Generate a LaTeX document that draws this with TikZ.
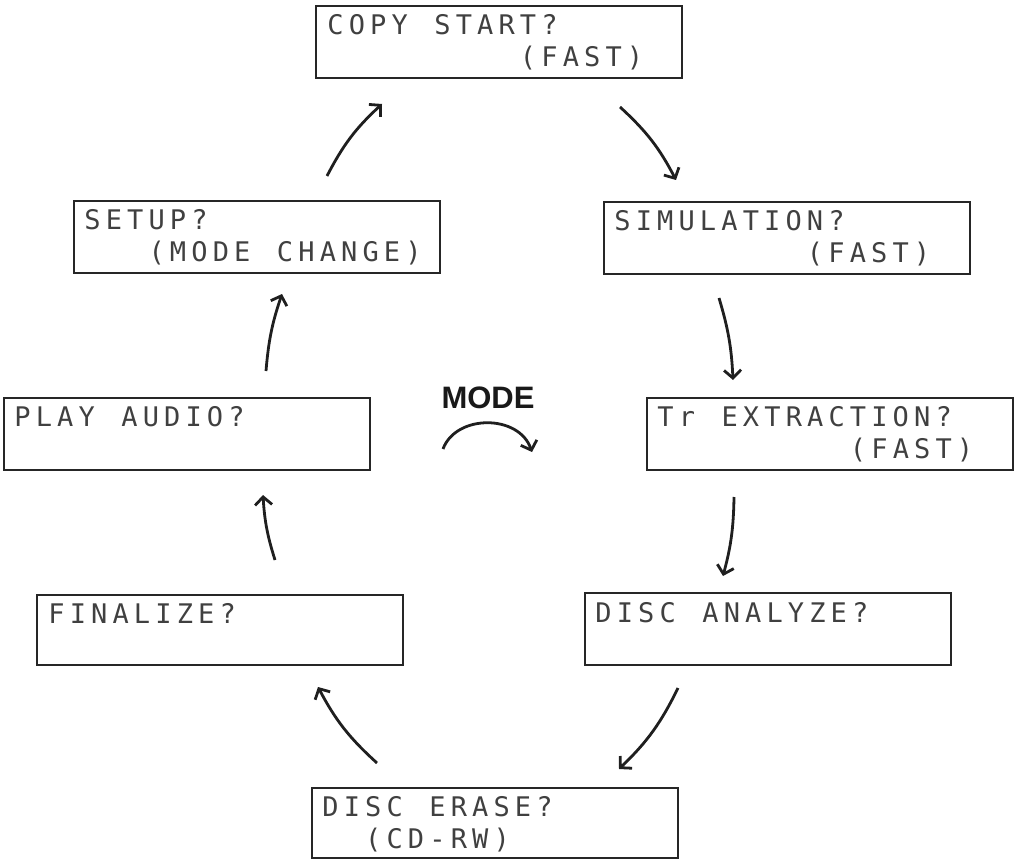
\documentclass[tikz,border=0pt]{standalone}
\usepackage{fontspec}
\usetikzlibrary{arrows.meta,calc}
\newfontfamily\lcdfont{DejaVu Sans Mono}
\newfontfamily\modefont{Liberation Sans}
\makeatletter
\def\lcd#1{\lcdloop#1\relax}
\def\lcdloop#1{\ifx#1\relax\else\makebox[21.4pt][c]{#1}\expandafter\lcdloop\fi}
\makeatother
\begin{document}
\begin{tikzpicture}[x=1pt,y=-1pt,
  lcdbox/.style={draw=black!85,line width=2.8pt,minimum width=366pt,minimum height=72pt,inner sep=0pt},
  lcdtext/.style={anchor=base west,inner sep=0pt,text=black!75,font=\lcdfont\fontsize{27}{27}\selectfont},
  cyc/.style={line width=2.8pt,draw=black!88,-{Straight Barb[length=8pt,width=17pt,line width=2.8pt]}}]
\useasboundingbox (0,0) rectangle (1017,861);
% boxes
\node[lcdbox] (copy) at (499,42) {};
\node[lcdbox] (sim) at (787,238) {};
\node[lcdbox] (tr) at (830,434) {};
\node[lcdbox] (ana) at (768,629) {};
\node[lcdbox,minimum height=70pt] (erase) at (495,823) {};
\node[lcdbox,minimum height=70pt] (fin) at (220,630) {};
\node[lcdbox] (play) at (187,434) {};
\node[lcdbox] (setup) at (257,237) {};
% texts
\node[lcdtext] (copyA) at ($(copy.north west)+(10,30)$) {\lcd{COPY~START?}};
\node[lcdtext] (copyB) at ($(copy.north west)+(10,62)$) {\lcd{~~~~~~~~~(FAST)}};
\node[lcdtext] (simA) at ($(sim.north west)+(9,30)$) {\lcd{SIMULATION?}};
\node[lcdtext] (simB) at ($(sim.north west)+(9,62)$) {\lcd{~~~~~~~~~(FAST)}};
\node[lcdtext] (trA) at ($(tr.north west)+(9,30)$) {\lcd{Tr~EXTRACTION?}};
\node[lcdtext] (trB) at ($(tr.north west)+(9,62)$) {\lcd{~~~~~~~~~(FAST)}};
\node[lcdtext] (anaA) at ($(ana.north west)+(9,31)$) {\lcd{DISC~ANALYZE?}};
\node[lcdtext] (eraseA) at ($(erase.north west)+(9,30)$) {\lcd{DISC~ERASE?}};
\node[lcdtext] (eraseB) at ($(erase.north west)+(9,62)$) {\lcd{~~(CD-RW)}};
\node[lcdtext] (finA) at ($(fin.north west)+(10,30)$) {\lcd{FINALIZE?}};
\node[lcdtext] (playA) at ($(play.north west)+(9,30)$) {\lcd{PLAY~AUDIO?}};
\node[lcdtext] (setupA) at ($(setup.north west)+(9,30)$) {\lcd{SETUP?}};
\node[lcdtext] (setupB) at ($(setup.north west)+(9,62)$) {\lcd{~~~(MODE~CHANGE)}};
% arrow end points
\coordinate (a1s) at (327,176); \coordinate (a1e) at (382,104);
\coordinate (a2s) at (620,107); \coordinate (a2e) at (676,180);
\coordinate (a3s) at (719,298); \coordinate (a3e) at (733,380);
\coordinate (a4s) at (734,497); \coordinate (a4e) at (723,576);
\coordinate (a5s) at (678,688); \coordinate (a5e) at (619,769);
\coordinate (a6s) at (377,763); \coordinate (a6e) at (318,687);
\coordinate (a7s) at (275,560); \coordinate (a7e) at (263,495);
\coordinate (a8s) at (266,371); \coordinate (a8e) at (282,294);
\draw[cyc] (a1s) to[bend left=10] (a1e);
\draw[cyc] (a2s) to[bend left=10] (a2e);
\draw[cyc] (a3s) to[bend left=7] (a3e);
\draw[cyc] (a4s) to[bend left=7] (a4e);
\draw[cyc] (a5s) to[bend left=10] (a5e);
\draw[cyc] (a6s) to[bend left=10] (a6e);
\draw[cyc] (a7s) to[bend left=7] (a7e);
\draw[cyc] (a8s) to[bend left=7] (a8e);
% mode
\node[anchor=base,inner sep=0pt,font=\modefont\bfseries\fontsize{31}{31}\selectfont,text=black!90] (mode) at (488,408) {MODE};
\coordinate (ms) at (443,449); \coordinate (me) at (532,452);
\draw[cyc] (ms) .. controls (456,414) and (519,414) .. (me);
\end{tikzpicture}
\end{document}
